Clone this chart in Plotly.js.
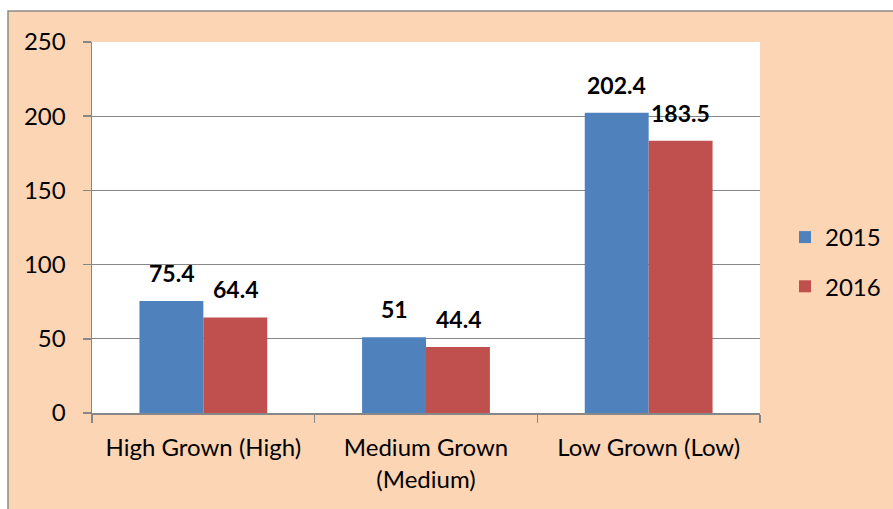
<!DOCTYPE html>
<html>
<head>
<meta charset="utf-8">
<script src="https://cdn.plot.ly/plotly-3.0.1.min.js"></script>
<style>html,body{margin:0;padding:0;background:#fff;}#chart{width:893px;height:509px;}</style>
</head>
<body>
<div id="chart"></div>
<script>
const categories = ["High Grown (High)", "Medium Grown<br>(Medium)", "Low Grown (Low)"];
const seriesNames = ["2015", "2016"];
const values2015 = [75.4, 51, 202.4];
const values2016 = [64.4, 44.4, 183.5];
const yTicks = [0, 50, 100, 150, 200, 250];

const FONT = "Lato, 'Open Sans', sans-serif";
const colors = ["#4F81BD", "#C0504D"];
const allValues = [values2015, values2016];

const traces = allValues.map((vals, i) => ({
  type: "bar",
  name: seriesNames[i],
  x: categories,
  y: vals,
  marker: {color: colors[i]},
  legendgroup: "g" + i,
  hoverinfo: "none"
}));

const annotations = [];
allValues.forEach((vals, i) => {
  vals.forEach((v, j) => {
    annotations.push({
      x: categories[j], y: v, xref: "x", yref: "y",
      text: "<b>" + v + "</b>",
      showarrow: false,
      xshift: i === 0 ? -32 : 32,
      yanchor: "bottom", yshift: 12,
      font: {family: FONT, size: 23, color: "#000"}
    });
  });
});

const L = 92, R = 760, T = 42, B = 413, W = 893, H = 509;
const pw = R - L, ph = B - T;
const px = v => (v - L) / pw;
const py = v => (B - v) / ph;

const layout = {
  width: W, height: H,
  margin: {l: L, r: W - R, t: T, b: H - B, pad: 0, autoexpand: false},
  paper_bgcolor: "#ffffff",
  plot_bgcolor: "rgba(0,0,0,0)",
  font: {family: FONT, size: 24, color: "#000"},
  barmode: "group",
  bargap: 0.426,
  bargroupgap: 0,
  showlegend: true,
  legend: {
    x: px(785), xanchor: "left",
    y: py(262), yanchor: "middle",
    traceorder: "grouped", tracegroupgap: 15,
    font: {family: FONT, size: 24, color: "#000"},
    bgcolor: "rgba(0,0,0,0)"
  },
  xaxis: {
    type: "category",
    showline: true, linecolor: "#878787", linewidth: 1.5,
    ticks: "outside", tickson: "boundaries", ticklen: 8, tickcolor: "#878787", tickwidth: 1.5,
    showgrid: false, zeroline: false,
    ticklabelstandoff: 13,
    tickfont: {family: FONT, size: 24, color: "#000"},
    fixedrange: true
  },
  yaxis: {
    range: [0, 250],
    tickvals: yTicks,
    ticktext: yTicks.map(String),
    showline: true, linecolor: "#878787", linewidth: 1.5,
    ticks: "outside", ticklen: 8, tickcolor: "#878787", tickwidth: 1.5,
    showgrid: true, gridcolor: "#878787", gridwidth: 1.2,
    zeroline: false,
    ticklabelstandoff: 12,
    tickfont: {family: FONT, size: 24, color: "#000"},
    fixedrange: true
  },
  shapes: [
    {type: "rect", xref: "paper", yref: "paper", layer: "below",
     x0: px(8), x1: px(W + 20), y0: py(H + 20), y1: py(11),
     fillcolor: "#FCD5B5", line: {color: "#8a8a8a", width: 1.5}},
    {type: "rect", xref: "paper", yref: "paper", layer: "below",
     x0: 0, x1: 1, y0: 0, y1: 1,
     fillcolor: "#ffffff", line: {width: 0}}
  ],
  annotations: annotations
};

Plotly.newPlot("chart", traces, layout, {displayModeBar: false, staticPlot: true});
</script>
</body>
</html>
